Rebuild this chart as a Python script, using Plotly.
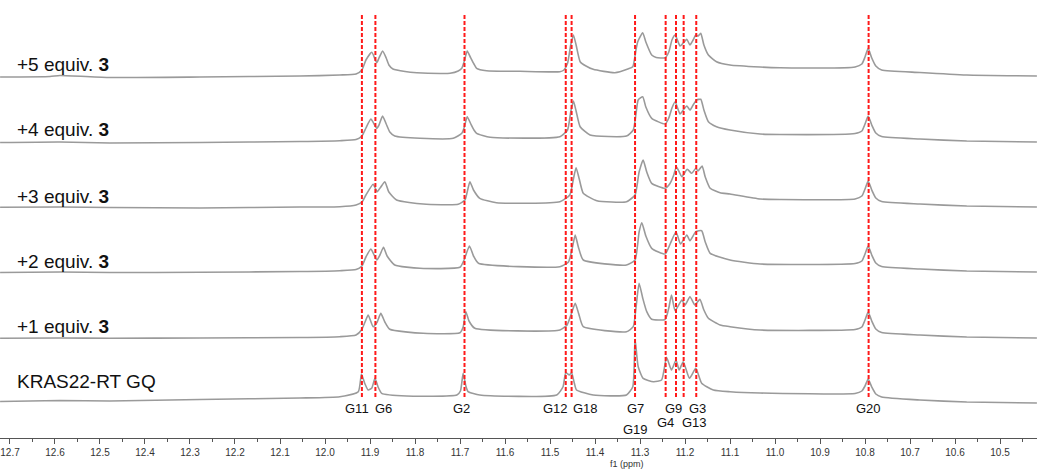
import plotly.graph_objects as go

# ---- data (ppm, intensity above each trace's own baseline) ----
labels = ["+5 equiv. <b>3</b>", "+4 equiv. <b>3</b>", "+3 equiv. <b>3</b>",
          "+2 equiv. <b>3</b>", "+1 equiv. <b>3</b>", "KRAS22-RT GQ"]

ppm_5 = [12.722, 12.611, 12.589, 12.478, 12.278, 12.056, 11.967, 11.931, 11.918, 11.909, 11.896, 11.885, 11.880, 11.872,
         11.864, 11.858, 11.849, 11.822, 11.796, 11.744, 11.722, 11.704, 11.696, 11.691, 11.684, 11.676, 11.669, 11.663,
         11.641, 11.567, 11.478, 11.469, 11.461, 11.454, 11.448, 11.442, 11.433, 11.420, 11.404, 11.356, 11.327, 11.316,
         11.309, 11.305, 11.294, 11.287, 11.274, 11.264, 11.244, 11.236, 11.229, 11.222, 11.211, 11.204, 11.196, 11.189,
         11.182, 11.176, 11.171, 11.165, 11.158, 11.148, 11.130, 11.100, 11.033, 10.989, 10.822, 10.807, 10.800, 10.793,
         10.785, 10.776, 10.763, 10.678, 10.574, 10.418]
int_5 = [-1, -0.5, 0.5, -1.5, -1, 0, 1, 2, 6, 16, 23.7, 13.3, 18, 25,
         18, 11, 7, 4.5, 3.3, 2.5, 2.7, 5, 7.7, 14, 25, 18, 12, 7.7,
         5.3, 4.7, 4.3, 6, 12.7, 31, 41, 31, 14.3, 10, 6.7, 3.3, 7, 9.3,
         26, 34.3, 43.3, 34, 21, 18.5, 18.3, 24, 36, 41, 30, 33, 36.7, 31,
         36, 41, 40, 42.7, 31, 21, 14.3, 11, 9, 8.3, 9, 12, 19, 27.7,
         18, 10, 6, 3.5, 1, 0]

ppm_4 = [12.722, 12.589, 12.478, 12.278, 12.056, 11.967, 11.931, 11.918, 11.909, 11.898, 11.885, 11.880, 11.872, 11.864,
         11.856, 11.845, 11.789, 11.715, 11.696, 11.691, 11.684, 11.676, 11.669, 11.663, 11.633, 11.478, 11.461, 11.454,
         11.448, 11.442, 11.433, 11.411, 11.330, 11.315, 11.309, 11.304, 11.294, 11.287, 11.274, 11.244, 11.236, 11.229,
         11.222, 11.211, 11.204, 11.196, 11.189, 11.182, 11.174, 11.165, 11.158, 11.148, 11.130, 11.100, 11.033, 10.989,
         10.822, 10.807, 10.800, 10.793, 10.785, 10.776, 10.763, 10.678, 10.574, 10.418]
int_4 = [-0.5, 0, -1, -0.5, 0.5, 1.3, 2.5, 6, 14, 23, 13.7, 17, 26, 18,
         10, 6, 3.7, 3.7, 8.7, 14, 25.3, 18, 12, 8.7, 4.7, 5.3, 12, 30,
         41, 31, 15.3, 7, 6, 12, 28, 42, 45.3, 35, 23.7, 18, 24, 34,
         40.3, 28, 32, 36, 32, 37, 42, 42.7, 32, 20.3, 15.3, 12, 8, 7.5,
         8.5, 11, 18, 26, 17, 9, 5.5, 3, 1, 0]

ppm_3 = [12.722, 12.589, 12.478, 12.278, 12.056, 11.967, 11.931, 11.918, 11.909, 11.893, 11.884, 11.876, 11.867, 11.858,
         11.841, 11.782, 11.704, 11.689, 11.684, 11.678, 11.670, 11.656, 11.619, 11.478, 11.456, 11.448, 11.442, 11.435,
         11.426, 11.396, 11.330, 11.311, 11.302, 11.293, 11.285, 11.274, 11.244, 11.233, 11.225, 11.219, 11.207, 11.195,
         11.185, 11.176, 11.171, 11.162, 11.155, 11.144, 11.122, 11.100, 11.033, 10.989, 10.822, 10.807, 10.800, 10.793,
         10.785, 10.776, 10.763, 10.678, 10.574, 10.418]
int_3 = [-0.3, 0, -0.5, -1, 0, 0.3, 2, 5, 12, 22.7, 15.3, 20, 25.3, 15,
         7, 3, 2.7, 7, 15, 25.3, 17, 8.7, 4.3, 5.3, 12, 28, 39.3, 28,
         13.7, 6.3, 5.3, 12, 35, 47, 35, 23.7, 18.7, 23.7, 32, 40.3, 30.3, 37.7,
         33.7, 38.7, 36, 41, 30, 18.7, 14.3, 13, 8, 7.5, 8, 11, 18, 26,
         17, 9, 5.5, 3, 1, 0]

ppm_2 = [12.722, 12.589, 12.478, 12.278, 12.056, 11.967, 11.931, 11.918, 11.909, 11.898, 11.885, 11.878, 11.870, 11.862,
         11.845, 11.789, 11.700, 11.691, 11.679, 11.670, 11.659, 11.478, 11.459, 11.450, 11.444, 11.437, 11.426, 11.330,
         11.311, 11.302, 11.296, 11.287, 11.274, 11.244, 11.233, 11.220, 11.210, 11.196, 11.189, 11.176, 11.163, 11.155,
         11.144, 11.100, 11.033, 10.822, 10.807, 10.800, 10.793, 10.785, 10.776, 10.763, 10.678, 10.574, 10.418]
int_2 = [-0.5, 0, -0.5, -0.3, 0.5, 1.3, 2.5, 6, 15, 23, 12, 17, 24.7, 16,
         7, 3.7, 4.7, 12, 26, 16, 8.7, 5.3, 10, 25, 37, 25, 12, 7,
         12, 40, 49.3, 36, 23.7, 18, 28, 40.3, 28, 37, 31.3, 40.3, 41.3, 30,
         18.7, 12, 8, 8.5, 11, 18, 26, 17, 9, 5.5, 3, 1, 0]

ppm_1 = [12.722, 12.589, 12.478, 12.278, 12.056, 11.967, 11.931, 11.919, 11.911, 11.904, 11.893, 11.884, 11.876, 11.867,
         11.856, 11.782, 11.700, 11.693, 11.687, 11.680, 11.667, 11.478, 11.462, 11.452, 11.444, 11.436, 11.426, 11.330,
         11.315, 11.309, 11.302, 11.294, 11.285, 11.274, 11.244, 11.236, 11.230, 11.222, 11.207, 11.200, 11.189, 11.178,
         11.167, 11.158, 11.148, 11.122, 11.100, 11.033, 10.822, 10.807, 10.800, 10.793, 10.785, 10.776, 10.763, 10.678,
         10.574, 10.418]
int_1 = [-0.3, 0, -0.3, 0, 0.5, 1.3, 3, 8, 16, 23, 11.3, 16, 24.7, 16,
         8.7, 4.7, 5.3, 11, 26.3, 17, 9.7, 8, 13, 25, 34.7, 24, 11.3, 6.3,
         11.3, 30, 54.7, 40, 26.3, 18.7, 18.7, 30, 43, 27.3, 38, 33, 41.3, 33,
         38.7, 28, 19.7, 13, 11.3, 8, 8.5, 11, 18, 26, 17, 9, 5.5, 3,
         1, 0]

ppm_0 = [12.722, 12.589, 12.478, 12.278, 12.056, 11.967, 11.926, 11.919, 11.912, 11.904, 11.896, 11.889, 11.882, 11.874,
         11.819, 11.707, 11.699, 11.693, 11.687, 11.682, 11.656, 11.485, 11.471, 11.465, 11.457, 11.452, 11.446, 11.441,
         11.404, 11.330, 11.316, 11.311, 11.304, 11.293, 11.270, 11.252, 11.241, 11.230, 11.220, 11.213, 11.204, 11.190,
         11.176, 11.163, 11.137, 11.100, 11.033, 10.822, 10.807, 10.800, 10.793, 10.785, 10.776, 10.763, 10.678, 10.574,
         10.418]
int_0 = [-0.5, 0.5, 0, 1.5, 3, 4.3, 9.3, 27, 18, 11, 13, 22.7, 14, 7.7,
         5, 6, 10, 27.7, 15, 9.3, 6, 6, 14.3, 28.3, 26, 28.3, 18, 11,
         6, 6, 14.3, 61.7, 34.3, 22.7, 19.3, 21, 43.7, 31, 41, 31, 39.3, 22.7,
         32.7, 17.7, 11, 9.3, 8, 7.5, 10, 15, 22, 14, 7, 4, 1, -1,
         -2]

spectra_ppm = [ppm_5, ppm_4, ppm_3, ppm_2, ppm_1, ppm_0]
spectra_int = [int_5, int_4, int_3, int_2, int_1, int_0]

peak_names = ["G11", "G6", "G2", "G12", "G18", "G7", "G4", "G9", "G13", "G3", "G20"]
peak_ppm = [11.918, 11.888, 11.690, 11.465, 11.452, 11.311, 11.243, 11.220, 11.203, 11.175, 10.792]

# label placement (ppm of text centre, row: 0 = upper row, 1 = middle row, 2 = lower row)
label_text = ["G11", "G6", "G2", "G12", "G18", "G7", "G19", "G9", "G3", "G4", "G13", "G20"]
label_ppm = [11.929, 11.869, 11.696, 11.487, 11.422, 11.309, 11.309, 11.225, 11.173, 11.243, 11.180, 10.793]
label_row = [0, 0, 0, 0, 0, 0, 2, 0, 0, 1, 1, 0]

# ---- layout constants ----
W, H = 1037, 470
PLOT_H = 438
offsets = [362, 296, 231, 166, 100, 37]          # baseline of each stacked trace (y units = px)
label_y = [374, 309, 242, 177, 112, 57]

fig = go.Figure()
for p, v, off in zip(spectra_ppm, spectra_int, offsets):
    fig.add_trace(go.Scatter(x=p, y=[off + i for i in v], mode="lines",
                             line=dict(color="#9a9a9a", width=1.6, shape="spline", smoothing=0.5),
                             hoverinfo="skip", showlegend=False))

for xp in peak_ppm:
    fig.add_shape(type="line", x0=xp, x1=xp, y0=41, y1=423, xref="x", yref="y",
                  line=dict(color="#ff1a1a", width=2, dash="4px,2px"))

for txt, yy in zip(labels, label_y):
    fig.add_annotation(x=15 / W, y=yy, xref="paper", yref="y", text=txt, showarrow=False,
                       xanchor="left", yanchor="middle",
                       font=dict(family="Liberation Sans, Arial", size=19, color="#111111"))

row_y = [30, 16, 9]
for txt, xp, r in zip(label_text, label_ppm, label_row):
    fig.add_annotation(x=xp, y=row_y[r], xref="x", yref="y", text=txt, showarrow=False,
                       xanchor="center", yanchor="middle",
                       font=dict(family="Liberation Sans, Arial", size=13, color="#111111"))

fig.add_annotation(x=627 / W, y=-26 / PLOT_H, xref="paper", yref="paper", text="f1 (ppm)", showarrow=False,
                   xanchor="center", yanchor="middle",
                   font=dict(family="Liberation Sans, Arial", size=9, color="#333333"))

fig.update_layout(
    width=W, height=H, margin=dict(l=0, r=0, t=0, b=H - PLOT_H, autoexpand=False),
    paper_bgcolor="white", plot_bgcolor="white",
    xaxis=dict(range=[12.7222, 10.4178], showgrid=False, zeroline=False, automargin=False,
               tick0=0, dtick=0.1, tickformat=".1f", ticks="outside", ticklen=5, tickcolor="#555555",
               showline=True, linecolor="#555555", linewidth=1,
               tickfont=dict(family="Liberation Sans, Arial", size=10, color="#333333"),
               minor=dict(dtick=0.05, ticks="outside", ticklen=3, tickcolor="#555555")),
    yaxis=dict(range=[0, PLOT_H], visible=False, showgrid=False, zeroline=False, automargin=False),
)

fig.write_html("out.html", config={"displayModeBar": False},
               post_script="document.body.style.margin='0';document.body.style.overflow='hidden';")
